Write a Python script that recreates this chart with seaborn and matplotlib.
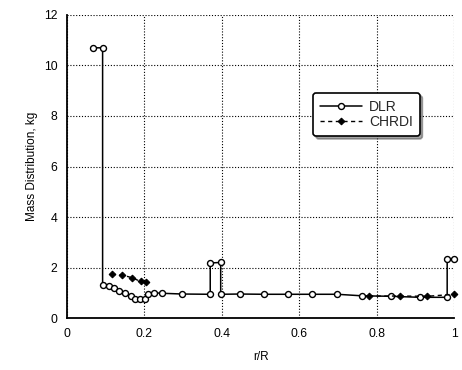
import numpy as np
import pandas as pd
import matplotlib
matplotlib.use("Agg")
import matplotlib.pyplot as plt
import seaborn as sns

# Blade mass distribution along the span (r/R), two data sources
dlr_r = [0.067, 0.092, 0.092, 0.109, 0.122, 0.135, 0.150, 0.165, 0.176, 0.189,
         0.202, 0.210, 0.225, 0.245, 0.298, 0.370, 0.370, 0.397, 0.397, 0.446,
         0.508, 0.570, 0.633, 0.698, 0.761, 0.837, 0.911, 0.982, 0.982, 1.000]
dlr_mass = [10.7, 10.7, 1.32, 1.27, 1.18, 1.05, 0.98, 0.89, 0.77, 0.75,
            0.76, 0.95, 1.00, 0.98, 0.95, 0.94, 2.18, 2.20, 0.94, 0.95,
            0.94, 0.94, 0.94, 0.94, 0.88, 0.86, 0.82, 0.82, 2.33, 2.33]

chrdi_r = [0.116, 0.141, 0.167, 0.190, 0.205, 0.780, 0.860, 0.930, 1.000]
chrdi_mass = [1.73, 1.71, 1.60, 1.45, 1.43, 0.87, 0.87, 0.86, 0.94]
chrdi_segment = [1, 1, 1, 1, 1, 2, 2, 2, 2]

x_ticks = [0, 0.2, 0.4, 0.6, 0.8, 1]
x_tick_labels = ["0", "0.2", "0.4", "0.6", "0.8", "1"]
y_ticks = [0, 2, 4, 6, 8, 10, 12]

sns.set_theme(style="white")
plt.rcParams["font.family"] = ["Liberation Sans", "DejaVu Sans"]

fig = plt.figure(figsize=(4.62, 3.70), dpi=100)
ax = fig.add_axes([0.145, 0.1405, 0.838, 0.819])

dlr = pd.DataFrame({"r": dlr_r, "mass": dlr_mass})
chrdi = pd.DataFrame({"r": chrdi_r, "mass": chrdi_mass, "seg": chrdi_segment})

sns.lineplot(data=dlr, x="r", y="mass", sort=False, estimator=None, ax=ax,
             color="black", lw=1.1, marker="o", markersize=4.3,
             markerfacecolor="white", markeredgecolor="black",
             markeredgewidth=1.0, label="DLR", zorder=3, clip_on=False)
for seg, part in chrdi.groupby("seg"):
    sns.lineplot(data=part, x="r", y="mass", sort=False, estimator=None,
                 ax=ax, color="black", lw=1.0, linestyle=(0, (3, 2.5)),
                 marker="D", markersize=3.4, markerfacecolor="black",
                 markeredgecolor="black",
                 label="CHRDI" if seg == 1 else None, zorder=4,
                 clip_on=False)

ax.set_xlim(0, 1)
ax.set_ylim(0, 12)
ax.set_xticks(x_ticks)
ax.set_xticklabels(x_tick_labels)
ax.set_yticks(y_ticks)
ax.tick_params(axis="both", labelsize=8.8, colors="black", length=2,
               direction="in", pad=7)

ax.grid(True, color="black", linestyle=(0, (1, 1.6)), linewidth=0.8)
for side in ("top", "right"):
    ax.spines[side].set_visible(False)
for side in ("left", "bottom"):
    ax.spines[side].set_color("black")
    ax.spines[side].set_linewidth(1.3)

ax.set_xlabel("r/R", fontsize=8.5, color="black", labelpad=8)
ax.set_ylabel("Mass Distribution, kg", fontsize=8.5, color="black",
              labelpad=4)

handles, labels = ax.get_legend_handles_labels()
leg = ax.legend(handles[:2], labels[:2], loc="upper left",
                bbox_to_anchor=(0.636, 0.743),
                borderaxespad=0, frameon=True, fancybox=True, shadow=True,
                fontsize=10, handlelength=3.0, borderpad=0.5,
                labelspacing=0.1, handletextpad=0.5)
frame = leg.get_frame()
frame.set_edgecolor("black")
frame.set_linewidth(1.2)
frame.set_facecolor("white")
frame.set_alpha(1)

fig.savefig("out.png", dpi=100)
